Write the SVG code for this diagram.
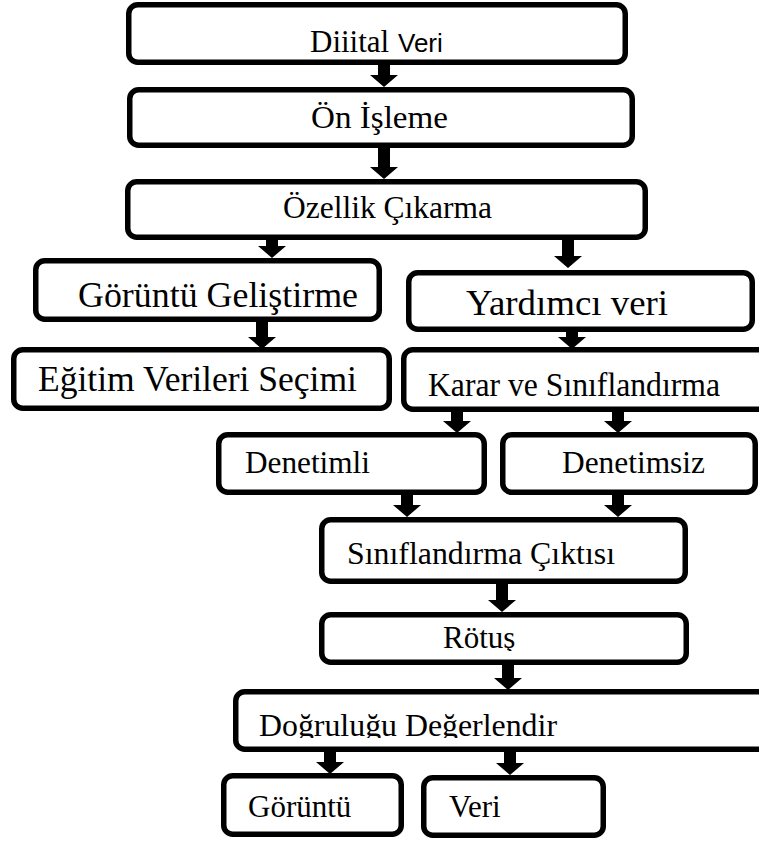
<svg xmlns="http://www.w3.org/2000/svg" width="759" height="841" viewBox="0 0 759 841">
  <style>
    .box { fill: #fff; stroke: #000; stroke-width: 5.5; }
    .lbl { font-family: "Liberation Serif", "Times New Roman", serif; font-size: 31px; fill: #000; }
    .big { font-size: 35.5px; }
    .sans { font-family: "Liberation Sans", Arial, sans-serif; font-size: 26px; }
    .arrow { fill: #000; }
  </style>
  <defs>
    <clipPath id="clipDog"><rect x="0" y="0" width="759" height="738"/></clipPath>
    <clipPath id="clipRot"><rect x="0" y="0" width="759" height="651"/></clipPath>
  </defs>

  <g id="connectors">
    <!-- block arrows: shaft 12 wide, head 28 wide x 12 tall -->
    <path class="arrow" d="M378,64 V75 H370 L384,87 L398,75 H390 V64 Z"/>
    <path class="arrow" d="M378,147 V167 H370 L384,179 L398,167 H390 V147 Z"/>
    <path class="arrow" d="M266,239 V246 H258 L272,258 L286,246 H278 V239 Z"/>
    <path class="arrow" d="M562,239 V256 H554 L568,268 L582,256 H574 V239 Z"/>
    <path class="arrow" d="M256,321 V337 H248 L262,349 L276,337 H268 V321 Z"/>
    <path class="arrow" d="M566,322 V337 H558 L572,349 L586,337 H578 V322 Z"/>
    <path class="arrow" d="M451,412 V421 H443 L457,433 L471,421 H463 V412 Z"/>
    <path class="arrow" d="M612,412 V421 H604 L618,433 L632,421 H624 V412 Z"/>
    <path class="arrow" d="M401,494 V505 H393 L407,517 L421,505 H413 V494 Z"/>
    <path class="arrow" d="M612,494 V505 H604 L618,517 L632,505 H624 V494 Z"/>
    <path class="arrow" d="M496,583 V600 H488 L502,612 L516,600 H508 V583 Z"/>
    <path class="arrow" d="M502,664 V678 H494 L508,690 L522,678 H514 V664 Z"/>
    <path class="arrow" d="M324,751 V762 H316 L330,774 L344,762 H336 V751 Z"/>
    <path class="arrow" d="M504,751 V763 H496 L510,775 L524,763 H516 V751 Z"/>
  </g>

  <g id="n-dijital">
    <rect class="box" x="128.75" y="4.75" width="496.5" height="57.5" rx="9"/>
    <text class="lbl" x="310" y="52">Diiital <tspan class="sans" x="398">Veri</tspan></text>
  </g>
  <g id="n-onisleme">
    <rect class="box" x="129.75" y="89.75" width="502.5" height="55.5" rx="9"/>
    <text class="lbl" x="311" y="128" textLength="137" lengthAdjust="spacingAndGlyphs">Ön İşleme</text>
  </g>
  <g id="n-ozellik">
    <rect class="box" x="127.75" y="181.75" width="517.5" height="55.5" rx="9"/>
    <text class="lbl" x="283" y="218" textLength="209" lengthAdjust="spacingAndGlyphs">Özellik Çıkarma</text>
  </g>
  <g id="n-goruntu-gelistirme">
    <rect class="box" x="35.75" y="260.75" width="343.5" height="58.5" rx="9"/>
    <text class="lbl big" x="78" y="307" textLength="280" lengthAdjust="spacingAndGlyphs">Görüntü Geliştirme</text>
  </g>
  <g id="n-yardimci">
    <rect class="box" x="408.75" y="272.75" width="343.5" height="56.5" rx="9"/>
    <text class="lbl big" x="466" y="315" textLength="202" lengthAdjust="spacingAndGlyphs">Yardımcı veri</text>
  </g>
  <g id="n-egitim">
    <rect class="box" x="13.75" y="349.75" width="375.5" height="58.5" rx="9"/>
    <text class="lbl big" x="38" y="391" textLength="319" lengthAdjust="spacingAndGlyphs">Eğitim Verileri Seçimi</text>
  </g>
  <g id="n-karar">
    <rect class="box" x="403.75" y="349.75" width="371" height="59.5" rx="9"/>
    <text class="lbl" transform="translate(428,396) scale(1,1.12)" x="0" y="0" textLength="292" lengthAdjust="spacingAndGlyphs">Karar ve Sınıflandırma</text>
  </g>
  <g id="n-denetimli">
    <rect class="box" x="218.75" y="434.75" width="265.5" height="57.5" rx="9"/>
    <text class="lbl" x="245" y="473" textLength="125" lengthAdjust="spacingAndGlyphs">Denetimli</text>
  </g>
  <g id="n-denetimsiz">
    <rect class="box" x="502.75" y="434.75" width="252.5" height="57.5" rx="9"/>
    <text class="lbl" x="562" y="473" textLength="143" lengthAdjust="spacingAndGlyphs">Denetimsiz</text>
  </g>
  <g id="n-cikti">
    <rect class="box" x="321.75" y="519.75" width="363.5" height="61.5" rx="9"/>
    <text class="lbl" x="347" y="564" textLength="268" lengthAdjust="spacingAndGlyphs">Sınıflandırma Çıktısı</text>
  </g>
  <g id="n-rotus">
    <rect class="box" x="321.75" y="614.75" width="364.5" height="47.5" rx="9"/>
    <text class="lbl" x="443" y="648" clip-path="url(#clipRot)">Rötuş</text>
  </g>
  <g id="n-dogruluk">
    <rect class="box" x="235.75" y="691.75" width="540" height="57.5" rx="9"/>
    <text class="lbl" x="259" y="736" textLength="298" lengthAdjust="spacingAndGlyphs" clip-path="url(#clipDog)">Doğruluğu Değerlendir</text>
  </g>
  <g id="n-goruntu">
    <rect class="box" x="223.75" y="775.75" width="177.5" height="58.5" rx="9"/>
    <text class="lbl" x="248" y="817">Görüntü</text>
  </g>
  <g id="n-veri">
    <rect class="box" x="423.75" y="777.75" width="179.5" height="57.5" rx="9"/>
    <text class="lbl" x="449" y="817">Veri</text>
  </g>
</svg>
